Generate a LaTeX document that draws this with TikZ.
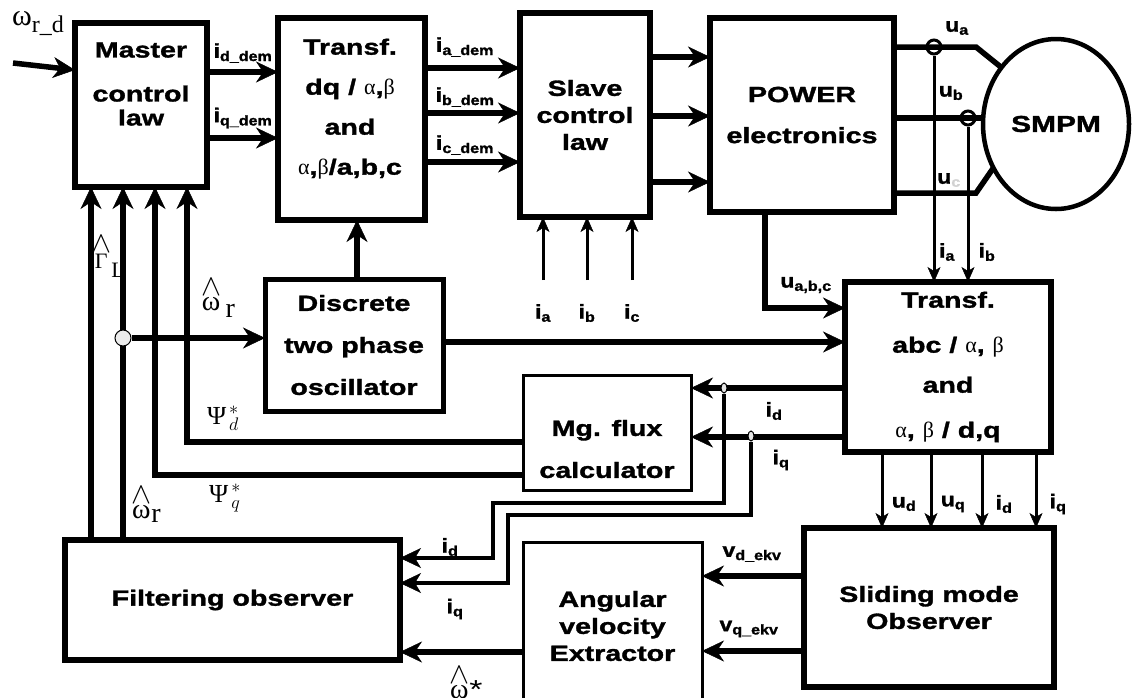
\RequirePackage{fix-cm}
\documentclass[tikz,border=0pt]{standalone}
\usepackage[no-math]{fontspec}
\setmainfont{Liberation Sans}[FakeStretch=1.3, BoldFeatures={FakeBold=1.5}]
\newfontfamily\lblfont{Liberation Sans}[FakeStretch=1.15, BoldFeatures={FakeBold=1.5}]
\newfontfamily\grk{Liberation Serif}
\usetikzlibrary{arrows.meta, shapes.geometric}

\newcommand{\gr}[1]{{\grk\mdseries #1}}
\newcommand{\hatw}[1]{\ensuremath{\stackrel{\hbox{\fontsize{30}{30}\selectfont$\wedge$}}{\hbox{\grk #1}}}}

\begin{document}
\begin{tikzpicture}[
    x=1pt, y=-1pt,
    blk/.style={rectangle, draw, line width=6pt, outer sep=0pt, inner sep=0pt, align=center, font=\bfseries\fontsize{22}{27}\selectfont},
    tblk/.style={blk, line width=3pt},
    txt/.style={inner sep=0pt, align=center, font=\bfseries\fontsize{22}{27}\selectfont},
    lbl/.style={inner sep=0pt, font=\lblfont\bfseries\fontsize{20}{22}\selectfont},
    glbl/.style={inner sep=0pt, font=\grk\fontsize{28}{30}\selectfont},
    arrow/.style={line width=5.5pt, -{Stealth[length=22pt, width=21pt, inset=7pt, line width=0.5pt]}},
    tarrow/.style={line width=3pt, -{Stealth[length=15pt, width=13pt, inset=4pt, line width=0.5pt]}},
    warrow/.style={line width=3.5pt, -{Stealth[length=21pt, width=20pt, inset=6pt, line width=0.5pt]}},
    wire/.style={line width=5.5pt},
    sensor/.style={circle, draw, line width=3pt, minimum size=14pt, inner sep=0pt},
    jdot/.style={circle, draw, line width=1pt, fill=gray!15, minimum size=16pt, inner sep=0pt},
    jov/.style={ellipse, draw, line width=1pt, fill=gray!20, minimum width=6pt, minimum height=10pt, inner sep=0pt}
]
    \useasboundingbox (0,0) rectangle (1134,697);

    \node[blk, minimum width=132pt, minimum height=164pt] (master) at (141,105) {};
    \node[txt] (master-t) at (141,84) {Master\\[17pt]control\\[-3pt]law};
    \node[blk, minimum width=147pt, minimum height=202pt] (trdq) at (351.5,119) {};
    \node[txt] (trdq-t) at (350,109) {Transf.\\[13pt]dq / \gr{α},\gr{β}\\[13pt]and\\[13pt]\gr{α},\gr{β}/a,b,c};
    \node[blk, minimum width=130pt, minimum height=204pt] (slave) at (585,115) {Slave\\control\\law};
    \node[blk, minimum width=184pt, minimum height=194pt] (power) at (802,115) {POWER\\[14pt]electronics};
    \node[ellipse, draw, line width=4.5pt, minimum width=146pt, minimum height=170pt, inner sep=0pt, outer sep=0pt, font=\bfseries\fontsize{23}{27}\selectfont] (smpm) at (1056,124) {SMPM};
    \node[blk, line width=5pt, minimum width=178pt, minimum height=132pt] (disc) at (354,345) {Discrete\\[15pt]two phase\\[15pt]oscillator};
    \node[blk, minimum width=206pt, minimum height=170pt] (trabc) at (948,367) {Transf.\\[18pt]abc / \gr{α}, \gr{β}\\[13pt]and\\[18pt]\gr{α}, \gr{β} / d,q};
    \node[tblk, minimum width=168pt, minimum height=115pt] (flux) at (607,432.5) {};
    \node[txt] (flux-t) at (607,449) {Mg. flux\\[15pt]calculator};
    \node[blk, minimum width=335pt, minimum height=120pt] (filt) at (232.5,600) {Filtering observer};
    \node[blk, minimum width=250pt, minimum height=159pt] (smo) at (929,607.5) {Sliding mode\\Observer};
    \node[tblk, minimum width=179pt, minimum height=168pt] (angv) at (612.5,626) {Angular\\velocity\\Extractor};

    \coordinate (wref) at (13,63);
    \draw[arrow] (wref) -- (master.west |- 0,70);
    \node[glbl, font=\grk\fontsize{30}{32}\selectfont] (wref-l) at (38,24) {ω\raisebox{-7pt}{\fontsize{24}{24}\selectfont r\_d}};

    \draw[arrow] (master.east |- 0,72) -- (trdq.west |- 0,72);
    \draw[arrow] (master.east |- 0,138) -- (trdq.west |- 0,138);
    \node[lbl] (iddem) at (243,53) {i\textsubscript{d\_dem}};
    \node[lbl] (iqdem) at (243,118) {i\textsubscript{q\_dem}};

    \foreach \y/\ly/\n in {68/47/a, 113/97/b, 162/145/c} {
        \draw[arrow] (trdq.east |- 0,\y) -- (slave.west |- 0,\y);
        \node[lbl] (i\n dem) at (465,\ly) {i\textsubscript{\n\_dem}};
    }
    \foreach \y in {57,116,182}
        \draw[arrow] (slave.east |- 0,\y) -- (power.west |- 0,\y);

    \foreach \x/\n in {543/a, 587/b, 632/c} {
        \coordinate (in\n) at (\x,280);
        \draw[tarrow] (in\n) -- (slave.south -| in\n);
        \node[lbl] (lin\n) at (\x,313) {i\textsubscript{\n}};
    }

    \draw[wire] (power.east |- 0,47) -- (976,47) -- (smpm.134);
    \draw[wire] (power.east |- 0,118) -- (smpm.west |- 0,118);
    \draw[wire] (power.east |- 0,193) -- (976,193) -- (smpm.215);
    \node[sensor] (sa) at (934,47) {};
    \node[sensor] (sb) at (968,118) {};
    \draw[tarrow] (sa.south) -- (trabc.north -| sa);
    \draw[tarrow] (sb.south) -- (trabc.north -| sb);
    \node[lbl] (ua) at (957,28) {u\textsubscript{a}};
    \node[lbl] (ub) at (951,93) {u\textsubscript{b}};
    \node[lbl] (uc) at (949,180) {u\textsubscript{\color{gray!35}c}};
    \node[lbl] (ia) at (947,252) {i\textsubscript{a}};
    \node[lbl] (ib) at (987,252) {i\textsubscript{b}};

    \draw[arrow] (power.south -| 765,0) |- (trabc.west |- 0,308);
    \node[lbl] (uabc) at (806,285) {u\textsubscript{a,b,c}};

    \draw[arrow] (disc.north -| 357,0) -- (trdq.south -| 357,0);
    \draw[arrow] (disc.east |- 0,342) -- (trabc.west |- 0,342);

    \draw[arrow] (filt.north -| 91,0) -- (master.south -| 91,0);
    \draw[arrow] (filt.north -| 123,0) -- (master.south -| 123,0);
    \draw[arrow] (flux.west |- 0,475) -| (master.south -| 155,0);
    \draw[arrow] (flux.west |- 0,442) -| (master.south -| 187,0);
    \node[jdot] (jw) at (123,338) {};
    \draw[arrow] (jw.east) -- (disc.west |- jw);
    \node[glbl, font=\grk\fontsize{22}{26}\selectfont] (gaml) at (108,256) {\hatw{Γ}\raisebox{-9pt}{L}};
    \node[glbl] (wr1) at (218,298) {\hatw{ω}\,\raisebox{-7pt}{r}};
    \node[glbl, font=\grk\fontsize{26}{30}\selectfont] (psid) at (223,418) {$\hbox{Ψ}^{\,*}_{\,d}$};
    \node[glbl, font=\grk\fontsize{26}{30}\selectfont] (psiq) at (225,498) {$\hbox{Ψ}^{\,*}_{\,q}$};
    \node[glbl] (wr2) at (146,504) {\hatw{ω}\raisebox{-4pt}{r}};

    \draw[arrow] (trabc.west |- 0,388) -- (flux.east |- 0,388);
    \draw[arrow] (trabc.west |- 0,437) -- (flux.east |- 0,437);
    \node[jov] (jd) at (724,388) {};
    \node[jov] (jq) at (751,436) {};
    \draw[warrow] (jd.south) |- (493,503) |- (filt.east |- 0,558);
    \draw[warrow] (jq.south) |- (508,515) |- (filt.east |- 0,583);
    \node[lbl] (idf) at (774,411) {i\textsubscript{d}};
    \node[lbl] (iqf) at (781,460) {i\textsubscript{q}};
    \node[lbl] (idfo) at (450,547) {i\textsubscript{d}};
    \node[lbl] (iqfo) at (455,609) {i\textsubscript{q}};

    \foreach \x/\t in {882/u\textsubscript{d}, 931/u\textsubscript{q}, 982/i\textsubscript{d}, 1036/i\textsubscript{q}} {
        \draw[tarrow] (trabc.south -| \x,0) -- (smo.north -| \x,0);
        \node[lbl] at (\x+22,504) {\t};
    }

    \draw[arrow] (smo.west |- 0,576) -- (angv.east |- 0,576);
    \draw[arrow] (smo.west |- 0,651) -- (angv.east |- 0,651);
    \node[lbl] (vdekv) at (752,554) {v\textsubscript{d\_ekv}};
    \node[lbl] (vqekv) at (749,629) {v\textsubscript{q\_ekv}};

    \draw[arrow] (angv.west |- 0,652) -- (filt.east |- 0,652);
    \node[glbl] (wstar) at (466,682) {\hatw{ω}{\rmfamily\fontsize{26}{26}\selectfont*}};
\end{tikzpicture}
\end{document}
